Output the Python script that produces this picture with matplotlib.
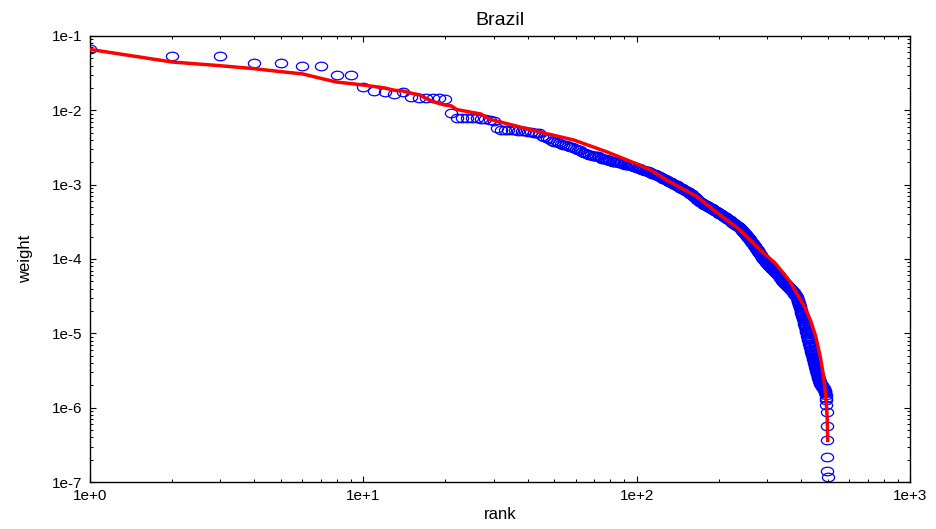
import numpy as np
import matplotlib
matplotlib.use("Agg")
import matplotlib.pyplot as plt
from matplotlib.path import Path
from matplotlib.transforms import Affine2D
from matplotlib.ticker import LogLocator, NullFormatter

plt.rcParams['font.family'] = ['Liberation Sans', 'DejaVu Sans']

title = "Brazil"
x_label = "rank"
y_label = "weight"

obs_log_weight = [
    -1.17, -1.27, -1.27, -1.37, -1.37, -1.40, -1.40, -1.52, -1.52, -1.68,
    -1.74, -1.75, -1.78, -1.76, -1.82, -1.83, -1.84, -1.84, -1.84, -1.85,
    -2.03, -2.10, -2.11, -2.11, -2.11, -2.11, -2.12, -2.12, -2.13, -2.15,
    -2.24, -2.26, -2.26, -2.27, -2.27, -2.27, -2.28, -2.28, -2.28, -2.29,
    -2.29, -2.30, -2.30, -2.31, -2.35, -2.36, -2.37, -2.39, -2.41, -2.42,
    -2.43, -2.44, -2.45, -2.46, -2.47, -2.48, -2.49, -2.50, -2.51, -2.52,
    -2.53, -2.53, -2.56, -2.57, -2.58, -2.59, -2.60, -2.60, -2.61, -2.61,
    -2.62, -2.62, -2.63, -2.64, -2.65, -2.65, -2.66, -2.67, -2.67, -2.68,
    -2.68, -2.69, -2.69, -2.70, -2.70, -2.71, -2.71, -2.71, -2.72, -2.72,
    -2.73, -2.73, -2.73, -2.74, -2.74, -2.75, -2.75, -2.76, -2.76, -2.77,
    -2.78, -2.78, -2.79, -2.79, -2.80, -2.80, -2.81, -2.81, -2.82, -2.82,
    -2.83, -2.83, -2.84, -2.85, -2.85, -2.86, -2.86, -2.87, -2.87, -2.88,
    -2.89, -2.90, -2.90, -2.91, -2.92, -2.92, -2.93, -2.94, -2.94, -2.95,
    -2.96, -2.96, -2.97, -2.97, -2.98, -2.99, -2.99, -3.00, -3.01, -3.01,
    -3.02, -3.02, -3.03, -3.04, -3.04, -3.05, -3.06, -3.06, -3.07, -3.07,
    -3.08, -3.09, -3.09, -3.10, -3.10, -3.11, -3.12, -3.13, -3.13, -3.14,
    -3.15, -3.16, -3.16, -3.17, -3.18, -3.19, -3.20, -3.21, -3.22, -3.23,
    -3.24, -3.24, -3.25, -3.25, -3.26, -3.26, -3.27, -3.27, -3.28, -3.28,
    -3.29, -3.29, -3.30, -3.30, -3.31, -3.31, -3.32, -3.32, -3.33, -3.33,
    -3.34, -3.34, -3.35, -3.35, -3.36, -3.36, -3.37, -3.37, -3.38, -3.38,
    -3.39, -3.39, -3.40, -3.40, -3.41, -3.41, -3.42, -3.42, -3.43, -3.43,
    -3.44, -3.44, -3.45, -3.45, -3.46, -3.46, -3.47, -3.47, -3.48, -3.48,
    -3.49, -3.49, -3.50, -3.51, -3.51, -3.52, -3.52, -3.53, -3.53, -3.54,
    -3.54, -3.55, -3.55, -3.56, -3.56, -3.57, -3.57, -3.58, -3.58, -3.59,
    -3.60, -3.61, -3.61, -3.62, -3.63, -3.64, -3.64, -3.65, -3.66, -3.67,
    -3.67, -3.68, -3.69, -3.70, -3.70, -3.71, -3.72, -3.73, -3.73, -3.74,
    -3.75, -3.76, -3.77, -3.78, -3.78, -3.79, -3.80, -3.81, -3.82, -3.83,
    -3.83, -3.84, -3.85, -3.86, -3.87, -3.88, -3.88, -3.89, -3.90, -3.91,
    -3.92, -3.93, -3.93, -3.94, -3.95, -3.96, -3.97, -3.98, -3.98, -3.99,
    -4.00, -4.01, -4.01, -4.02, -4.03, -4.03, -4.04, -4.05, -4.05, -4.06,
    -4.06, -4.07, -4.08, -4.08, -4.09, -4.09, -4.10, -4.11, -4.11, -4.12,
    -4.12, -4.13, -4.13, -4.14, -4.14, -4.15, -4.15, -4.16, -4.16, -4.17,
    -4.17, -4.18, -4.18, -4.19, -4.19, -4.20, -4.20, -4.21, -4.21, -4.22,
    -4.22, -4.23, -4.23, -4.24, -4.25, -4.25, -4.26, -4.27, -4.27, -4.28,
    -4.29, -4.30, -4.30, -4.31, -4.31, -4.32, -4.32, -4.32, -4.33, -4.33,
    -4.33, -4.34, -4.34, -4.35, -4.35, -4.36, -4.36, -4.37, -4.37, -4.38,
    -4.38, -4.39, -4.39, -4.40, -4.40, -4.41, -4.41, -4.42, -4.42, -4.43,
    -4.43, -4.44, -4.44, -4.45, -4.45, -4.46, -4.47, -4.47, -4.48, -4.48,
    -4.49, -4.49, -4.50, -4.50, -4.51, -4.52, -4.53, -4.55, -4.56, -4.57,
    -4.58, -4.59, -4.61, -4.62, -4.63, -4.65, -4.66, -4.68, -4.70, -4.71,
    -4.72, -4.74, -4.75, -4.77, -4.78, -4.80, -4.81, -4.83, -4.84, -4.86,
    -4.87, -4.89, -4.90, -4.92, -4.93, -4.95, -4.97, -4.98, -5.00, -5.01,
    -5.03, -5.05, -5.06, -5.08, -5.09, -5.11, -5.12, -5.14, -5.15, -5.17,
    -5.18, -5.19, -5.21, -5.22, -5.24, -5.25, -5.26, -5.28, -5.29, -5.31,
    -5.32, -5.33, -5.35, -5.36, -5.37, -5.39, -5.40, -5.41, -5.43, -5.44,
    -5.45, -5.47, -5.48, -5.49, -5.51, -5.52, -5.54, -5.55, -5.57, -5.58,
    -5.59, -5.60, -5.61, -5.62, -5.63, -5.64, -5.65, -5.66, -5.67, -5.68,
    -5.68, -5.69, -5.69, -5.70, -5.70, -5.71, -5.71, -5.72, -5.72, -5.73,
    -5.73, -5.74, -5.74, -5.75, -5.75, -5.76, -5.77, -5.78, -5.79, -5.80,
    -5.83, -5.87, -5.90, -5.97, -6.06, -6.24, -6.44, -6.66, -6.85, -6.93,
]

# fitted curve (log10 weight) at selected ranks
fit_rank = [1, 2, 3, 4, 5, 6, 7, 8, 9, 10, 11, 12, 13, 14, 15, 16, 17, 18,
            19, 20, 21, 22, 27, 29, 44, 59, 78, 103, 112, 132, 166, 196, 239,
            291, 320, 344, 365, 385, 410, 432, 452, 470, 480, 488, 494, 498,
            500]
fit_log_weight = [-1.18, -1.35, -1.40, -1.44, -1.48, -1.51, -1.57, -1.62,
                  -1.64, -1.66, -1.68, -1.70, -1.73, -1.74, -1.77, -1.79,
                  -1.84, -1.88, -1.91, -1.93, -1.94, -1.99, -2.05, -2.12,
                  -2.29, -2.40, -2.56, -2.74, -2.80, -2.96, -3.16, -3.37,
                  -3.61, -3.92, -4.05, -4.19, -4.31, -4.46, -4.63, -4.82,
                  -5.04, -5.32, -5.52, -5.72, -5.93, -6.15, -6.44]

x_ticks = [1, 10, 100, 1000]
x_tick_labels = ["1e+0", "1e+1", "1e+2", "1e+3"]
y_ticks = [1e-7, 1e-6, 1e-5, 1e-4, 1e-3, 1e-2, 1e-1]
y_tick_labels = ["1e-7", "1e-6", "1e-5", "1e-4", "1e-3", "1e-2", "1e-1"]

obs_rank = np.arange(1, len(obs_log_weight) + 1)
obs_weight = 10.0 ** np.array(obs_log_weight)
fit_weight = 10.0 ** np.array(fit_log_weight)

fig = plt.figure(figsize=(9.37, 5.29), dpi=100)
ax = fig.add_axes([0.0957, 0.0888, 0.8755, 0.8432])

ellipse = Path.unit_circle().transformed(Affine2D().scale(1.0, 0.70))
ax.plot(obs_rank, obs_weight, linestyle='none', marker=ellipse,
        markersize=8.8, markerfacecolor='none', markeredgecolor='#0000ff',
        markeredgewidth=0.9, zorder=2)
ax.plot(fit_rank, fit_weight, color='#ff0000', linewidth=2.5, zorder=3,
        solid_joinstyle='round')

ax.set_xscale('log')
ax.set_yscale('log')
ax.set_xlim(1, 1000)
ax.set_ylim(1e-7, 1e-1)

ax.set_xticks(x_ticks)
ax.set_xticklabels(x_tick_labels)
ax.set_yticks(y_ticks)
ax.set_yticklabels(y_tick_labels)
ax.xaxis.set_minor_locator(LogLocator(base=10, subs=np.arange(2, 10), numticks=20))
ax.yaxis.set_minor_locator(LogLocator(base=10, subs=np.arange(2, 10), numticks=20))
ax.xaxis.set_minor_formatter(NullFormatter())
ax.yaxis.set_minor_formatter(NullFormatter())

ax.tick_params(which='both', direction='in', top=True, right=True,
               colors='black', labelsize=11)
ax.tick_params(which='major', length=4.5, width=0.8, pad=5)
ax.tick_params(which='minor', length=2.5, width=0.7)
for s in ax.spines.values():
    s.set_linewidth(1.0)
    s.set_color('black')

ax.set_title(title, fontsize=14, pad=8)
ax.set_xlabel(x_label, fontsize=12, labelpad=3)
ax.set_ylabel(y_label, fontsize=12, labelpad=14)

fig.savefig("out.png", dpi=100)
